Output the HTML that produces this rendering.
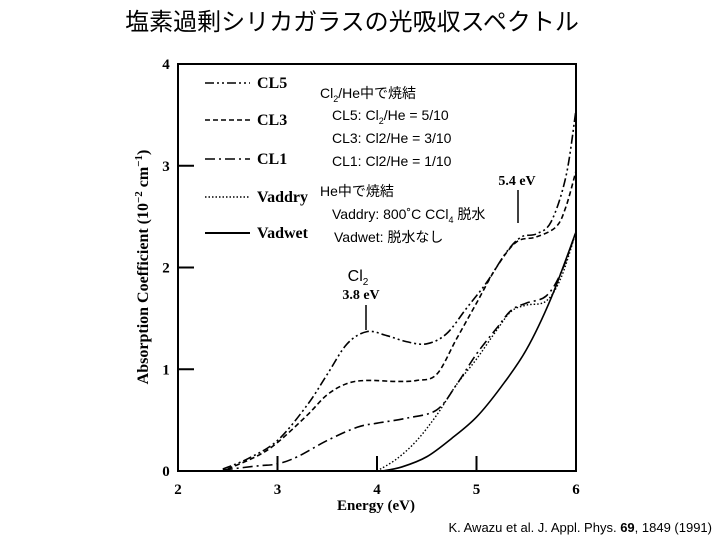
<!DOCTYPE html>
<html><head><meta charset="utf-8"><style>
html,body{margin:0;padding:0;background:#fff;width:720px;height:540px;overflow:hidden}
svg{display:block}
.serif{font-family:"Liberation Serif",serif;font-weight:bold}
.sans{font-family:"Liberation Sans","Noto Sans CJK JP",sans-serif}
</style></head><body>
<svg id="chart" width="720" height="540">
<text x="352" y="30" text-anchor="middle" class="sans" font-size="24">塩素過剰シリカガラスの光吸収スペクトル</text>
<g id="plot"></g>
<text x="712" y="532" text-anchor="end" class="sans" font-size="13">K. Awazu et al.  J. Appl. Phys. <tspan font-weight="bold">69</tspan>, 1849 (1991)</text>
</svg>
<script>
const xTicks=[2,3,4,5,6];
const yTicks=[0,1,2,3,4];
const cl5X=[2.45,2.7,3.0,3.3,3.5,3.7,3.9,4.1,4.3,4.5,4.7,4.9,5.1,5.3,5.45,5.6,5.75,5.9,6.0];
const cl5Y=[0.02,0.12,0.3,0.65,0.95,1.25,1.37,1.33,1.27,1.25,1.35,1.6,1.85,2.15,2.3,2.33,2.45,2.9,3.55];
const cl3X=[2.5,2.8,3.0,3.3,3.5,3.7,3.9,4.2,4.4,4.6,4.8,5.0,5.2,5.4,5.6,5.8,5.9,6.0];
const cl3Y=[0.02,0.15,0.28,0.55,0.75,0.86,0.89,0.88,0.89,0.95,1.3,1.65,2.0,2.25,2.3,2.4,2.6,2.95];
const cl1X=[2.45,2.8,3.0,3.2,3.5,3.8,4.0,4.3,4.6,4.8,5.0,5.2,5.35,5.5,5.7,5.85,6.0];
const cl1Y=[0.01,0.05,0.07,0.14,0.3,0.43,0.47,0.52,0.6,0.85,1.15,1.4,1.58,1.65,1.72,1.95,2.35];
const vaddryX=[4.0,4.2,4.4,4.6,4.8,5.0,5.2,5.35,5.5,5.7,5.85,6.0];
const vaddryY=[0.0,0.12,0.3,0.55,0.85,1.1,1.38,1.57,1.63,1.67,1.9,2.35];
const vadwetX=[4.05,4.25,4.5,4.75,5.0,5.25,5.5,5.75,6.0];
const vadwetY=[0.0,0.04,0.14,0.32,0.53,0.83,1.19,1.7,2.35];

const X0=178,X1=576,Y0=471,Y1=64;
const sx=v=>X0+(v-2)/4*(X1-X0);
const sy=v=>Y0-v/4*(Y0-Y1);
const NS='http://www.w3.org/2000/svg';
const g=document.getElementById('plot');
function mk(t,a,parent){const e=document.createElementNS(NS,t);for(const k in a)e.setAttribute(k,a[k]);(parent||g).appendChild(e);return e;}

let e=mk('path',{d:`M${X0},${Y1}H${X1}V${Y0}H${X0}Z`,fill:'none',stroke:'#000','stroke-width':2});



xTicks.forEach(t=>{
  if(t>2&&t<6){const l=mk('line',{x1:sx(t),x2:sx(t),y1:Y0,y2:Y0-15,stroke:'#000','stroke-width':2});
  
  }
  const tx=mk('text',{x:sx(t),y:Y0+23,'text-anchor':'middle','font-size':15,class:'serif'});
  tx.textContent=t;
  
  
});
yTicks.forEach(t=>{
  if(t>0&&t<4){const l=mk('line',{x1:X0,x2:X0+16,y1:sy(t),y2:sy(t),stroke:'#000','stroke-width':2});
  
  }
  const tx=mk('text',{x:X0-12,y:sy(t)+5,'text-anchor':'middle','font-size':15,class:'serif'});
  tx.textContent=t;
  
  
});

function smooth(xs,ys){
  const p=xs.map((x,i)=>[sx(x),sy(ys[i])]);
  let d=`M${p[0][0]},${p[0][1]}`;
  for(let i=0;i<p.length-1;i++){
    const a=p[Math.max(0,i-1)],b=p[i],c=p[i+1],q=p[Math.min(p.length-1,i+2)];
    d+=` C${b[0]+(c[0]-a[0])/6},${b[1]+(c[1]-a[1])/6} ${c[0]-(q[0]-b[0])/6},${c[1]-(q[1]-b[1])/6} ${c[0]},${c[1]}`;
  }
  return d;
}
const series=[
 {n:'cl5',x:cl5X,y:cl5Y,dash:'9,3,2,3,2,3',w:1.6},
 {n:'cl3',x:cl3X,y:cl3Y,dash:'5,3',w:1.6},
 {n:'cl1',x:cl1X,y:cl1Y,dash:'10,4,2,4',w:1.6},
 {n:'vaddry',x:vaddryX,y:vaddryY,dash:'1.5,2',w:1.4},
 {n:'vadwet',x:vadwetX,y:vadwetY,dash:'',w:1.6}
];
series.forEach(s=>{
  const p=mk('path',{d:smooth(s.x,s.y),fill:'none',stroke:'#000','stroke-width':s.w,'stroke-dasharray':s.dash});
  
  
});

const legend=[['CL5',88],['CL3',125],['CL1',164],['Vaddry',202],['Vadwet',238]];
legend.forEach((L,i)=>{
  const ln=mk('line',{x1:205,x2:250,y1:L[1]-5,y2:L[1]-5,stroke:'#000','stroke-width':i==4?2:1.4,'stroke-dasharray':series[i].dash});
  
  
  const t=mk('text',{x:257,y:L[1],'font-size':16,class:'serif'});
  t.textContent=L[0];
  
  
});

const notes=[
 ['Cl<tspan font-size="9" dy="4">2</tspan><tspan dy="-4">/He中で焼結</tspan>',320,98],
 ['CL5: Cl<tspan font-size="9" dy="4">2</tspan><tspan dy="-4">/He = 5/10</tspan>',332,120],
 ['CL3: Cl2/He = 3/10',332,143],
 ['CL1: Cl2/He = 1/10',332,166],
 ['He中で焼結',320,196],
 ['Vaddry: 800˚C CCl<tspan font-size="9" dy="4">4</tspan><tspan dy="-4"> 脱水</tspan>',332,219],
 ['Vadwet: 脱水なし',334,242]
];
notes.forEach(n=>{
  const t=mk('text',{x:n[1],y:n[2],'font-size':14,class:'sans'});
  t.innerHTML=n[0];
  
  
});

let a=mk('text',{x:517,y:185,'text-anchor':'middle','font-size':14,class:'serif'});a.textContent='5.4 eV';


a=mk('line',{x1:518,x2:518,y1:190,y2:223,stroke:'#000','stroke-width':1.5});


a=mk('text',{x:358,y:281,'text-anchor':'middle','font-size':16,class:'sans'});a.innerHTML='Cl<tspan font-size="10" dy="4">2</tspan>';


a=mk('text',{x:361,y:299,'text-anchor':'middle','font-size':14,class:'serif'});a.textContent='3.8 eV';


a=mk('line',{x1:366,x2:366,y1:305,y2:330,stroke:'#000','stroke-width':1.5});



a=mk('text',{x:376,y:510,'text-anchor':'middle','font-size':15,class:'serif'});a.textContent='Energy (eV)';


a=mk('text',{x:0,y:0,'text-anchor':'middle','font-size':16,class:'serif',transform:'translate(148,267) rotate(-90)'});
a.innerHTML='Absorption Coefficient (10<tspan font-size="11" dy="-6">−2</tspan><tspan dy="6"> cm</tspan><tspan font-size="11" dy="-6">−1</tspan><tspan dy="6">)</tspan>';


</script>
</body></html>
